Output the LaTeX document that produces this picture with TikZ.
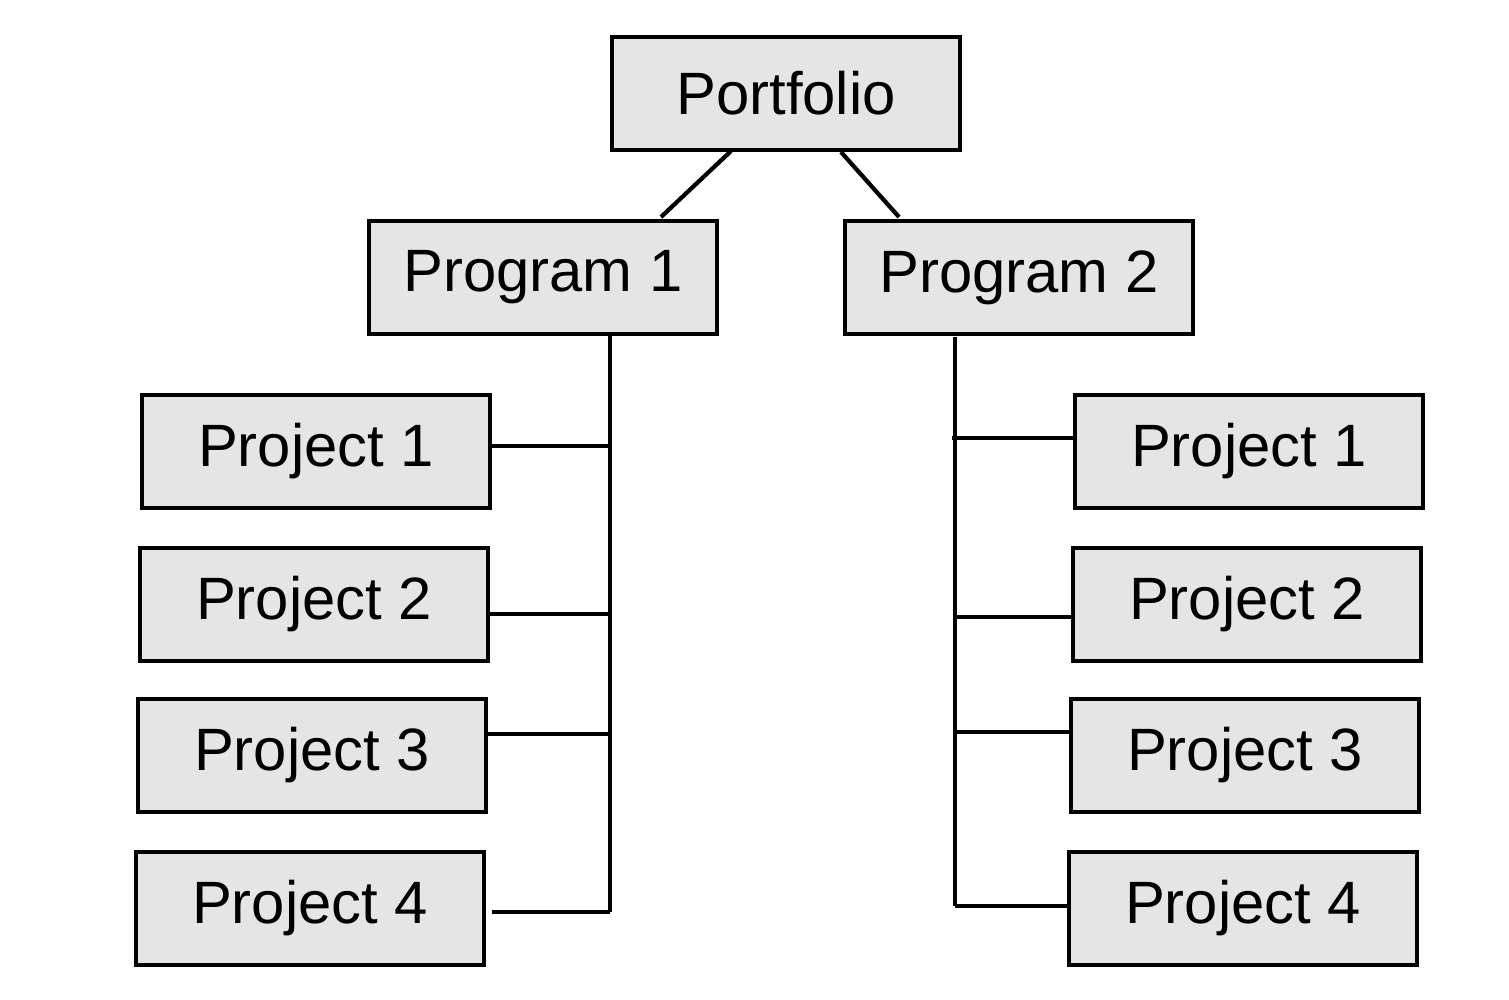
\documentclass[tikz,border=0pt]{standalone}
\usepackage{fontspec}
\setmainfont{Liberation Sans}
\begin{document}
\begin{tikzpicture}[x=0.01cm,y=-0.01cm,
  box/.style={draw=black,fill=black!10,line width=1.1pt,minimum width=3.48cm,minimum height=1.13cm,inner sep=0pt,anchor=north west,font=\fontsize{17}{20}\selectfont},
  conn/.style={draw=black,line width=1.2pt}]
\useasboundingbox[fill=white] (0,0) rectangle (1509,999);
\node[box] (port) at (610,35) {Portfolio};
\node[box] (prog1) at (367,219) {Program 1};
\node[box] (prog2) at (843,219) {Program 2};
\node[box] (l1) at (140,393) {Project 1};
\node[box] (l2) at (138,546) {Project 2};
\node[box] (l3) at (136,697) {Project 3};
\node[box] (l4) at (134,850) {Project 4};
\node[box] (r1) at (1073,393) {Project 1};
\node[box] (r2) at (1071,546) {Project 2};
\node[box] (r3) at (1069,697) {Project 3};
\node[box] (r4) at (1067,850) {Project 4};
\coordinate (a1) at (731,151);
\coordinate (b1) at (661,217);
\coordinate (a2) at (841,152);
\coordinate (b2) at (899,217);
\draw[conn] (a1) -- (b1);
\draw[conn] (a2) -- (b2);
\coordinate (Ltop) at (610,335);
\coordinate (Lbot) at (610,912);
\coordinate (Rtop) at (955,337);
\coordinate (Rbot) at (955,906);
\draw[conn] (Ltop) -- (Lbot);
\draw[conn] (Rtop) -- (Rbot);
\draw[conn] (l1.east |- 0,446) -- (Ltop |- 0,446);
\draw[conn] (l2.east |- 0,614) -- (Ltop |- 0,614);
\draw[conn] (l3.east |- 0,734) -- (Ltop |- 0,734);
\draw[conn] (Lbot -| 492,0) -- (Lbot);
\draw[conn] (r1.west |- 0,438) -- (952,438);
\draw[conn] (r2.west |- 0,617) -- (Rtop |- 0,617);
\draw[conn] (r3.west |- 0,732) -- (Rtop |- 0,732);
\draw[conn] (r4.west |- Rbot) -- (Rbot);
\end{tikzpicture}
\end{document}
